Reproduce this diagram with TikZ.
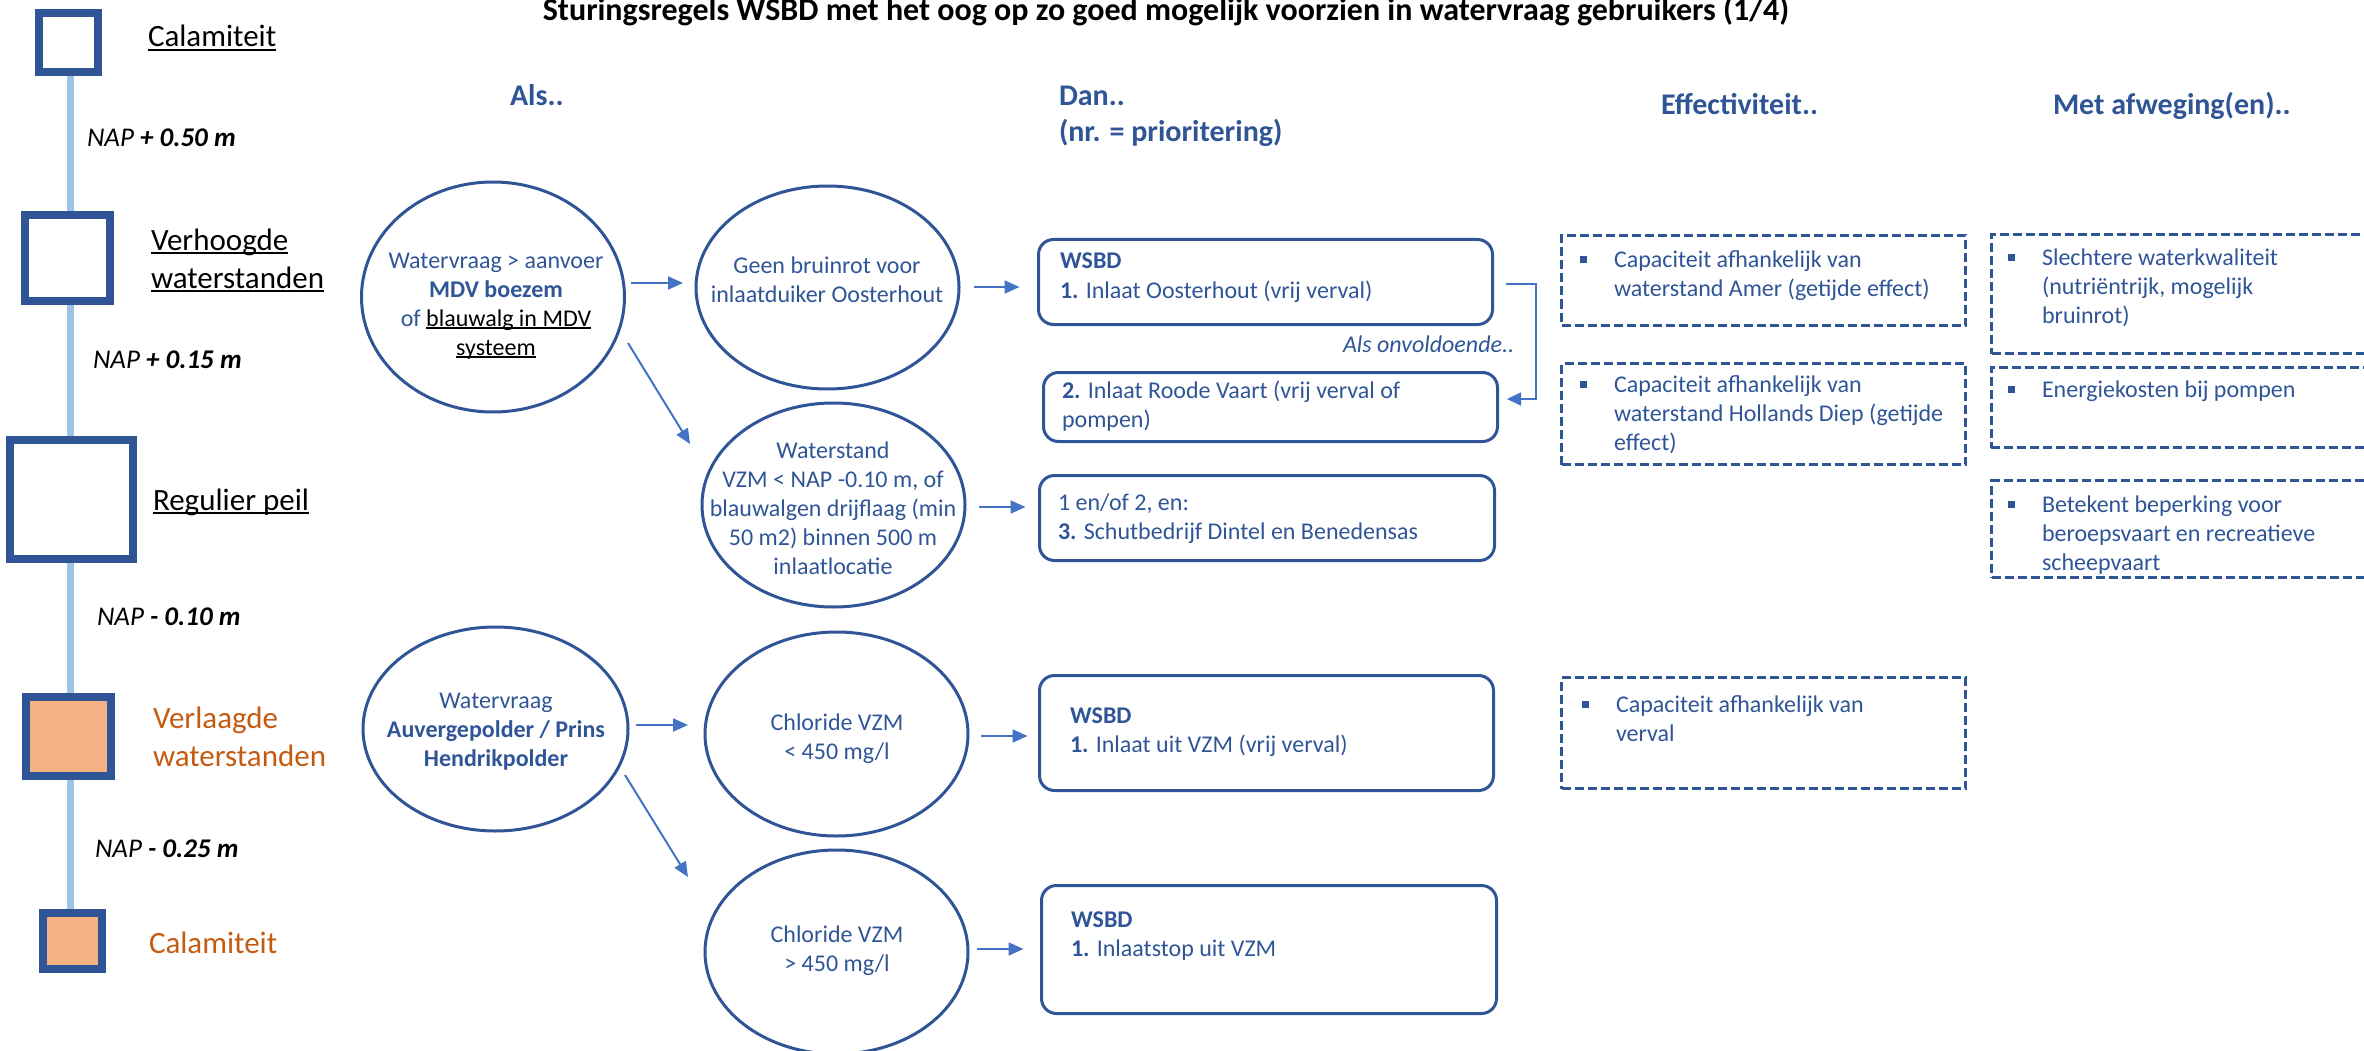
\documentclass[tikz,border=0pt]{standalone}
\usepackage{fontspec}
\setmainfont{Carlito}
\usetikzlibrary{shapes.geometric,arrows.meta,calc,backgrounds}
\definecolor{dblue}{HTML}{2F5597}
\definecolor{mblue}{HTML}{4472C4}
\definecolor{lblue}{HTML}{9DC3E6}
\definecolor{ofill}{HTML}{F4B183}
\definecolor{otext}{HTML}{C55A11}
\newsavebox\ulbox
\newcommand\myul[1]{\sbox\ulbox{#1}\rlap{\rule[-0.12em]{\wd\ulbox}{0.07em}}\usebox\ulbox}
\newcommand\tsb{\rule{0pt}{19pt}}
\newcommand\tsl{\rule{0pt}{25pt}}
\newcommand\tsh{\rule{0pt}{24pt}}
\newcommand\bul{\llap{\raisebox{4pt}{\rule{7pt}{7pt}}\hspace{27pt}}}
\begin{document}
\begin{tikzpicture}[x=1pt,y=1pt,
  every node/.style={inner sep=0pt, outer sep=0pt},
  sqbox/.style={draw=dblue, line width=8pt, fill=white},
  vline/.style={draw=lblue, line width=7pt},
  lbl/.style={anchor=base west, font=\fontsize{31}{38}\selectfont},
  lblm/.style={anchor=north west, align=left, font=\fontsize{31}{38}\selectfont},
  nap/.style={anchor=base west, font=\fontsize{27}{32}\selectfont\itshape},
  hdr/.style={anchor=base west, text=dblue, font=\fontsize{30}{32}\selectfont\bfseries},
  hdrm/.style={anchor=north west, align=left, text=dblue, font=\fontsize{30}{36}\selectfont\bfseries},
  body/.style={anchor=north west, align=left, text=dblue, font=\fontsize{24}{29}\selectfont},
  etxt/.style={anchor=north, align=center, text=dblue, font=\fontsize{24}{29}\selectfont},
  ell/.style={ellipse, draw=dblue, line width=3pt, minimum width=263, minimum height=204},
  rbox/.style={draw=dblue, line width=3pt, rounded corners=15pt, minimum width=454},
  dbox/.style={draw=dblue, line width=3pt, dash pattern=on 9pt off 4pt},
  arr/.style={draw=mblue, line width=2pt, -{Triangle[length=15pt,width=13pt]}},
  arrthin/.style={draw=mblue, line width=1.5pt, -{Triangle[length=14pt,width=13pt]}},
]
\useasboundingbox (0,0) rectangle (2364,-1051);

% title and headers
\node[anchor=base, font=\fontsize{32}{36}\selectfont\bfseries] (title) at (1166,-21)
  {Sturingsregels WSBD met het oog op zo goed mogelijk voorzien in watervraag gebruikers (1/4)};
\node[hdr] (hals) at (510,-106) {Als..};
\node[hdrm] (hdan) at (1059,-82) {\tsh Dan..\\(nr. = prioritering)};
\node[hdr] (heff) at (1661,-115) {Effectiviteit..};
\node[hdr] (hmet) at (2053,-115) {Met afweging(en)..};

% left level scale
\coordinate (vx) at (70,0);
\node[sqbox, minimum width=59, minimum height=59] (s1) at (68,-43) {};
\node[sqbox, minimum width=85, minimum height=85] (s2) at (67,-258) {};
\node[sqbox, minimum width=123, minimum height=119] (s3) at (71.5,-499.5) {};
\node[sqbox, fill=ofill, minimum width=85, minimum height=79] (s4) at (68.5,-736.5) {};
\node[sqbox, fill=ofill, minimum width=59, minimum height=56] (s5) at (72,-941) {};
\begin{pgfonlayer}{background}
\draw[vline] (s1 -| vx) -- (s5 -| vx);
\end{pgfonlayer}

\node[lbl] (l1) at (148,-47) {\myul{Calamiteit}};
\node[lblm] (l2) at (151,-225) {\tsl\myul{Verhoogde}\\\myul{waterstanden}};
\node[lbl] (l3) at (153,-510) {\myul{Regulier peil}};
\node[lblm, text=otext] (l4) at (153,-703) {\tsl Verlaagde\\waterstanden};
\node[lbl, text=otext] (l5) at (149,-953) {Calamiteit};

\node[nap] (n1) at (87,-147) {NAP \textbf{+ 0.50 m}};
\node[nap] (n2) at (93,-368) {NAP \textbf{+ 0.15 m}};
\node[nap] (n3) at (97,-625) {NAP \textbf{- 0.10 m}};
\node[nap] (n4) at (95,-857) {NAP \textbf{- 0.25 m}};

% ellipses
\node[ell, minimum height=230] (e1) at (493,-297) {};
\node[ell, minimum height=203] (e2) at (827.5,-287.5) {};
\node[ell] (e3) at (833.5,-505) {};
\node[ell, minimum width=265] (e4) at (495.5,-729) {};
\node[ell] (e5) at (836.5,-734) {};
\node[ell] (e6) at (836.5,-952) {};

\node[etxt] (te1) at (496,-249) {\tsb Watervraag > aanvoer\\\textbf{MDV boezem}\\of {\color{black}\myul{blauwalg in MDV}}\\{\color{black}\myul{systeem}}};
\node[etxt] (te2) at (827,-254) {\tsb Geen bruinrot voor\\inlaatduiker Oosterhout};
\node[etxt] (te3) at (833,-439) {\tsb Waterstand\\VZM < NAP -0.10 m, of\\blauwalgen drijflaag (min\\50 m2) binnen 500 m\\inlaatlocatie};
\node[etxt] (te4) at (496,-689) {\tsb Watervraag\\\textbf{Auvergepolder / Prins}\\\textbf{Hendrikpolder}};
\node[etxt] (te5) at (837,-711) {\tsb Chloride VZM\\< 450 mg/l};
\node[etxt] (te6) at (837,-923) {\tsb Chloride VZM\\> 450 mg/l};

% action boxes
\node[rbox, minimum height=85] (b1) at (1265.5,-282) {};
\node[rbox, minimum height=69] (b2) at (1270.5,-407) {};
\node[rbox, minimum width=455, minimum height=85] (b3) at (1267,-518) {};
\node[rbox, minimum height=115] (b4) at (1266.5,-733) {};
\node[rbox, minimum width=455, minimum height=128] (b5) at (1269,-949.5) {};

\node[body] (tb1) at (1060,-250) {\tsb\textbf{WSBD}\\\textbf{1.} Inlaat Oosterhout (vrij verval)};
\node[body] (tb2) at (1062,-379) {\tsb\textbf{2.} Inlaat Roode Vaart (vrij verval of\\pompen)};
\node[body] (tb3) at (1058,-491) {\tsb 1 en/of 2, en:\\\textbf{3.} Schutbedrijf Dintel en Benedensas};
\node[body] (tb4) at (1070,-704) {\tsb\textbf{WSBD}\\\textbf{1.} Inlaat uit VZM (vrij verval)};
\node[body] (tb5) at (1071,-908) {\tsb\textbf{WSBD}\\\textbf{1.} Inlaatstop uit VZM};
\node[anchor=base west, text=dblue, font=\fontsize{24}{29}\selectfont\itshape] (onv) at (1343,-352) {Als onvoldoende..};

% effectiveness boxes
\node[dbox, minimum width=404, minimum height=90] (d1) at (1763.5,-280.5) {};
\node[dbox, minimum width=404, minimum height=101] (d2) at (1763.5,-414) {};
\node[dbox, minimum width=404, minimum height=111] (d3) at (1763.5,-733) {};
\node[body] (td1) at (1614,-248) {\tsb\bul Capaciteit afhankelijk van\\waterstand Amer (getijde effect)};
\node[body] (td2) at (1614,-373) {\tsb\bul Capaciteit afhankelijk van\\waterstand Hollands Diep (getijde\\effect)};
\node[body] (td3) at (1616,-693) {\tsb\bul Capaciteit afhankelijk van\\verval};

% trade-off boxes
\node[dbox, minimum width=430, minimum height=119] (m1) at (2206.5,-294) {};
\node[dbox, minimum width=430, minimum height=80] (m2) at (2206,-407.5) {};
\node[dbox, minimum width=430, minimum height=97] (m3) at (2206.5,-529) {};
\node[body] (tm1) at (2042,-246) {\tsb\bul Slechtere waterkwaliteit\\(nutriëntrijk, mogelijk\\bruinrot)};
\node[body] (tm2) at (2042,-378) {\tsb\bul Energiekosten bij pompen};
\node[body] (tm3) at (2042,-493) {\tsb\bul Betekent beperking voor\\beroepsvaart en recreatieve\\scheepvaart};

% connectors
\draw[arr] ($(e1.east)+(6,14)$) -- ($(e2.west)+(-13,4.5)$);
\draw[arr] ($(e2.east)+(15,0.5)$) -- ($(b1.west)+(-19,-5)$);
\draw[arr] ($(e1.east)+(3.5,-46)$) -- ($(e3.west)+(-12,61)$);
\draw[arr] ($(e3.east)+(14,-2)$) -- ($(b3.west)+(-14,11)$);
\draw[arr] ($(e4.east)+(8,4)$) -- ($(e5.west)+(-17,9)$);
\draw[arr] ($(e5.east)+(13,-2)$) -- ($(b4.west)+(-12,-3)$);
\draw[arr] ($(e4.east)+(-3,-46)$) -- ($(e6.west)+(-17,75)$);
\draw[arr] ($(e6.east)+(9,3)$) -- ($(b5.west)+(-18,0.5)$);
\draw[arrthin] ($(b1.east)+(13.5,-2)$) -| ($(b2.east)+(38.5,8)$) -- ($(b2.east)+(9.5,8)$);
\end{tikzpicture}
\end{document}
